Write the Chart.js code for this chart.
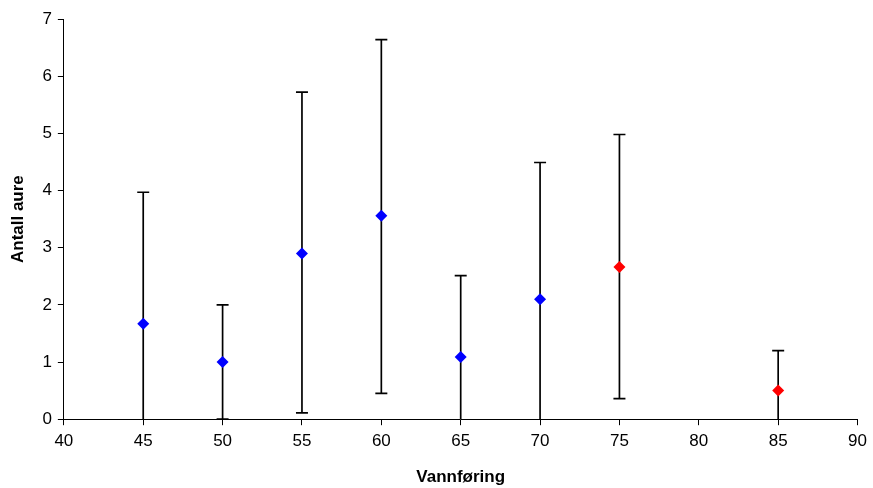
<!DOCTYPE html>
<html>
<head>
<meta charset="utf-8">
<script src="https://cdn.jsdelivr.net/npm/chart.js@4"></script>
<style>
html,body{margin:0;padding:0;background:#fff;}
#wrap{width:873px;height:488px;position:relative;}
</style>
</head>
<body>
<div id="wrap"><canvas id="chart"></canvas></div>
<script>
// series 1 (blue)
const blueX = [45, 50, 55, 60, 65, 70];
const blueMean = [1.67, 1.0, 2.9, 3.56, 1.09, 2.1];
const blueHigh = [3.97, 2.0, 5.72, 6.64, 2.51, 4.49];
const blueLow = [-0.63, 0.0, 0.11, 0.45, -0.33, -0.29];

// series 2 (red)
const redX = [75, 85];
const redMean = [2.66, 0.5];
const redHigh = [4.98, 1.2];
const redLow = [0.36, -0.2];

const xTitle = "Vannføring";
const yTitle = "Antall aure";

function toPoints(xs, ys){
  return xs.map((x,i)=>({x:x, y:ys[i]}));
}

// error bars drawn from the scales
const errorBars = {
  id:"errorBars",
  beforeDatasetsDraw(chart){
    const ctx = chart.ctx;
    const xs = chart.scales.x;
    const ys = chart.scales.y;
    const area = chart.chartArea;
    ctx.save();
    ctx.beginPath();
    ctx.rect(area.left, area.top - 2, area.right - area.left, area.bottom - area.top + 2);
    ctx.clip();
    ctx.strokeStyle = "#000";
    ctx.lineWidth = 1.7;
    chart.data.datasets.forEach(ds=>{
      ds.data.forEach((p,i)=>{
        const px = xs.getPixelForValue(p.x);
        const top = ys.getPixelForValue(ds.errHigh[i]);
        const bot = ys.getPixelForValue(ds.errLow[i]);
        ctx.beginPath();
        ctx.moveTo(px, top);
        ctx.lineTo(px, bot);
        ctx.moveTo(px - 6, top);
        ctx.lineTo(px + 6, top);
        ctx.moveTo(px - 6, bot);
        ctx.lineTo(px + 6, bot);
        ctx.stroke();
      });
    });
    ctx.restore();
  }
};

const tickFont = {family:"Liberation Sans, Arial, sans-serif", size:17};
const titleFont = {family:"Liberation Sans, Arial, sans-serif", size:17, weight:"bold"};

new Chart(document.getElementById("chart"),{
  type:"scatter",
  data:{
    datasets:[
      {
        label:"blue",
        data:toPoints(blueX, blueMean),
        errHigh:blueHigh,
        errLow:blueLow,
        pointStyle:"rectRot",
        pointRadius:6,
        backgroundColor:"#0000ff",
        borderColor:"#0000ff",
        borderWidth:0
      },
      {
        label:"red",
        data:toPoints(redX, redMean),
        errHigh:redHigh,
        errLow:redLow,
        pointStyle:"rectRot",
        pointRadius:6,
        backgroundColor:"#ff0000",
        borderColor:"#ff0000",
        borderWidth:0
      }
    ]
  },
  options:{
    responsive:true,
    maintainAspectRatio:false,
    animation:false,
    layout:{padding:{top:19, right:7, left:8, bottom:0}},
    plugins:{
      legend:{display:false},
      tooltip:{enabled:false}
    },
    scales:{
      x:{
        type:"linear",
        min:40,
        max:90,
        ticks:{stepSize:5, color:"#000", font:tickFont, padding:6},
        grid:{display:true, drawOnChartArea:false, drawTicks:true, tickLength:6, color:"#000"},
        border:{display:true, color:"#000", width:1},
        title:{display:true, text:xTitle, color:"#000", font:titleFont, padding:{top:10, bottom:0}}
      },
      y:{
        min:0,
        max:7,
        ticks:{stepSize:1, color:"#000", font:tickFont, padding:6},
        grid:{display:true, drawOnChartArea:false, drawTicks:true, tickLength:6, color:"#000"},
        border:{display:true, color:"#000", width:1},
        title:{display:true, text:yTitle, color:"#000", font:titleFont, padding:{top:0, bottom:8}}
      }
    }
  },
  plugins:[errorBars]
});
</script>
</body>
</html>
